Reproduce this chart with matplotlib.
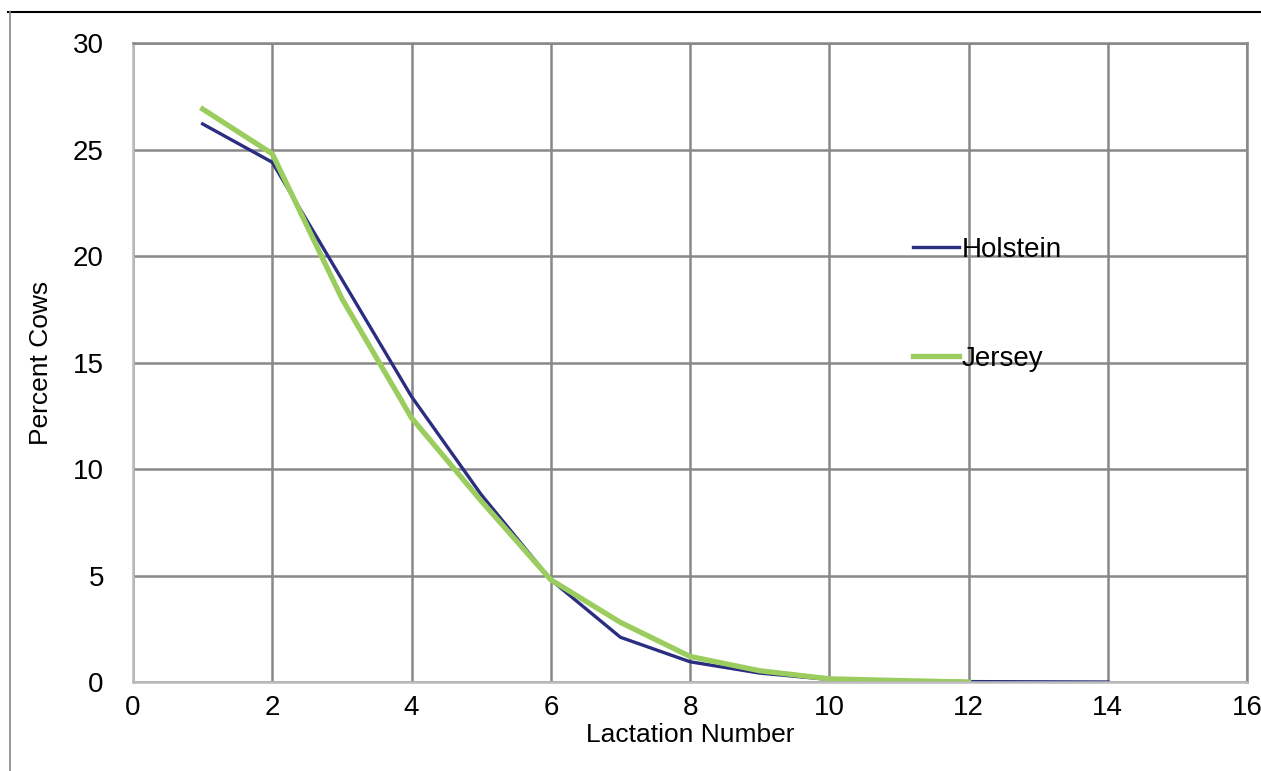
import matplotlib
matplotlib.use('Agg')
import matplotlib.pyplot as plt
from matplotlib.lines import Line2D

# lactation number vs percent of cows
holstein_lact = [1, 2, 3, 4, 5, 6, 7, 8, 9, 10, 11, 12, 13, 14]
holstein_pct = [26.2, 24.4, 18.9, 13.4, 8.8, 4.8, 2.1, 0.95, 0.42, 0.12, 0.05, 0.02, 0.01, 0.0]

jersey_lact = [1, 2, 3, 4, 5, 6, 7, 8, 9, 10, 11, 12]
jersey_pct = [26.9, 24.8, 18.0, 12.4, 8.5, 4.8, 2.8, 1.2, 0.53, 0.15, 0.07, 0.0]

x_ticks = [0, 2, 4, 6, 8, 10, 12, 14, 16]
y_ticks = [0, 5, 10, 15, 20, 25, 30]

plt.rcParams['font.family'] = ['Liberation Sans', 'DejaVu Sans']

fig = plt.figure(figsize=(12.61, 7.71), dpi=100)
ax = fig.add_axes([0.1055, 0.1154, 0.8835, 0.8288])

ax.plot(holstein_lact, holstein_pct, color='#2b2e80', lw=2.4, label='Holstein')
ax.plot(jersey_lact, jersey_pct, color='#9acd5e', lw=3.8, label='Jersey')

ax.set_xlim(0, 16)
ax.set_ylim(0, 30)
ax.set_xticks(x_ticks)
ax.set_yticks(y_ticks)
ax.grid(True, color='#888888', lw=1.8)
ax.set_axisbelow(True)
ax.tick_params(length=0, labelsize=20)
ax.tick_params(axis='y', pad=21)
ax.tick_params(axis='x', pad=9)

for side in ['top', 'right']:
    ax.spines[side].set_color('#888888')
    ax.spines[side].set_linewidth(1.8)
for side in ['left', 'bottom']:
    ax.spines[side].set_color('#bbbbbb')
    ax.spines[side].set_linewidth(1.8)

ax.set_xlabel('Lactation Number', fontsize=19, labelpad=2)
ax.set_ylabel('Percent Cows', fontsize=19, labelpad=14)

ax.legend(loc='upper left', bbox_to_anchor=(0.69, 0.714), frameon=False,
          fontsize=20, handlelength=1.65, handletextpad=0.1, labelspacing=3.0,
          borderaxespad=0)

# outer chart frame (partially cropped in the original)
fig.add_artist(Line2D([8/1261, 1], [1 - 12/771, 1 - 12/771], color='black', lw=1.5))
fig.add_artist(Line2D([10/1261, 10/1261], [0, 1 - 12/771], color='#888888', lw=1.2))

fig.savefig('out.png', dpi=100)
